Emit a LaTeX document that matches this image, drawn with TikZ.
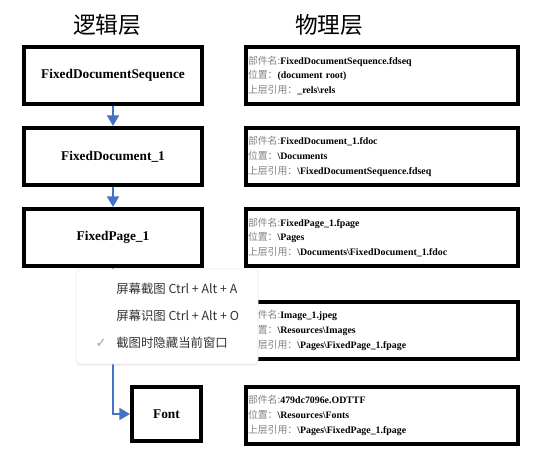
\documentclass[tikz,border=0pt]{standalone}
\usepackage{fontspec}
\setmainfont{Liberation Serif}
\newfontfamily\cjk{Noto Sans CJK SC}
\newfontfamily\symb{DejaVu Sans}
\usepackage{xcolor}
\usetikzlibrary{arrows.meta, positioning, shadows}
\definecolor{linkblue}{HTML}{4472C4}
\definecolor{labgray}{HTML}{808080}
\definecolor{menutext}{HTML}{333333}
\newcommand{\lab}[1]{{\cjk\mdseries\color{labgray}#1}}
\newcommand{\bsl}{\textbackslash}

\begin{document}
\begin{tikzpicture}[
    x=0.75pt, y=-0.75pt,
    node distance=15pt,
    layertitle/.style={font=\cjk\fontsize{17pt}{20pt}\selectfont},
    logic/.style={rectangle, draw, line width=3pt, minimum width=133.5pt, minimum height=42.75pt, font=\bfseries\fontsize{10pt}{12pt}\selectfont},
    phys/.style={rectangle, draw, line width=3pt, text width=201pt, inner xsep=1.5pt, align=left, minimum height=42.75pt, font=\bfseries\fontsize{7.4pt}{11pt}\selectfont},
    arrow/.style={-{Triangle[width=9pt,length=8pt]}, line width=1.5pt, linkblue},
    menu/.style={rectangle, rounded corners=3pt, fill=white, draw=black!8, drop shadow={opacity=0.12, shadow xshift=0pt, shadow yshift=-1.5pt}, minimum width=136.5pt, minimum height=71.25pt},
    item/.style={anchor=west, inner sep=0pt, text=menutext, font=\cjk\fontsize{9.3pt}{11pt}\selectfont}
  ]
    \useasboundingbox (0,0) rectangle (547,452);

    % layer titles
    \node[layertitle] (logtitle) at (107,25) {逻辑层};
    \node[layertitle] (phytitle) at (329,25) {物理层};

    % logical parts
    \node[logic] (fds) at (113,75.5) {FixedDocumentSequence};
    \node[logic, below=of fds] (fd) {FixedDocument\_1};
    \node[logic, below=of fd] (fp) {FixedPage\_1};
    \node[logic, minimum width=51.75pt, minimum height=40.5pt] (font) at (166.5,414) {Font};

    % physical parts
    \node[phys, right=30pt of fds] (pfds) {\lab{部件名:}FixedDocumentSequence.fdseq\\ \lab{位置：}(document root)\\ \lab{上层引用：}\_rels\bsl rels};
    \node[phys, right=30pt of fd] (pfd) {\lab{部件名:}FixedDocument\_1.fdoc\\ \lab{位置：}\bsl Documents\\ \lab{上层引用：}\bsl FixedDocumentSequence.fdseq};
    \node[phys, right=30pt of fp] (pfp) {\lab{部件名:}FixedPage\_1.fpage\\ \lab{位置：}\bsl Pages\\ \lab{上层引用：}\bsl Documents\bsl FixedDocument\_1.fdoc};
    \node[phys, below=24pt of pfp] (pimg) {\lab{部件名:}Image\_1.jpeg\\ \lab{位置：}\bsl Resources\bsl Images\\ \lab{上层引用：}\bsl Pages\bsl FixedPage\_1.fpage};
    \node[phys, below=18pt of pimg] (pfont) {\lab{部件名:}479dc7096e.ODTTF\\ \lab{位置：}\bsl Resources\bsl Fonts\\ \lab{上层引用：}\bsl Pages\bsl FixedPage\_1.fpage};

    \draw[arrow] (fds) -- (fd);
    \draw[arrow] (fd) -- (fp);
    \draw[arrow] (fp) |- (font);

    % screenshot menu over the picture
    \node[menu] (popup) at (167,316.5) {};
    \node[item] (shot) at (116,289) {屏幕截图 Ctrl + Alt + A};
    \node[item] (ocr) at (116,316) {屏幕识图 Ctrl + Alt + O};
    \node[item] (hide) at (116,343) {截图时隐藏当前窗口};
    \node[anchor=east, inner sep=0pt, text=black!35, font=\symb\fontsize{10pt}{12pt}\selectfont] (tick) at (107,343) {✓};
  \end{tikzpicture}
\end{document}
